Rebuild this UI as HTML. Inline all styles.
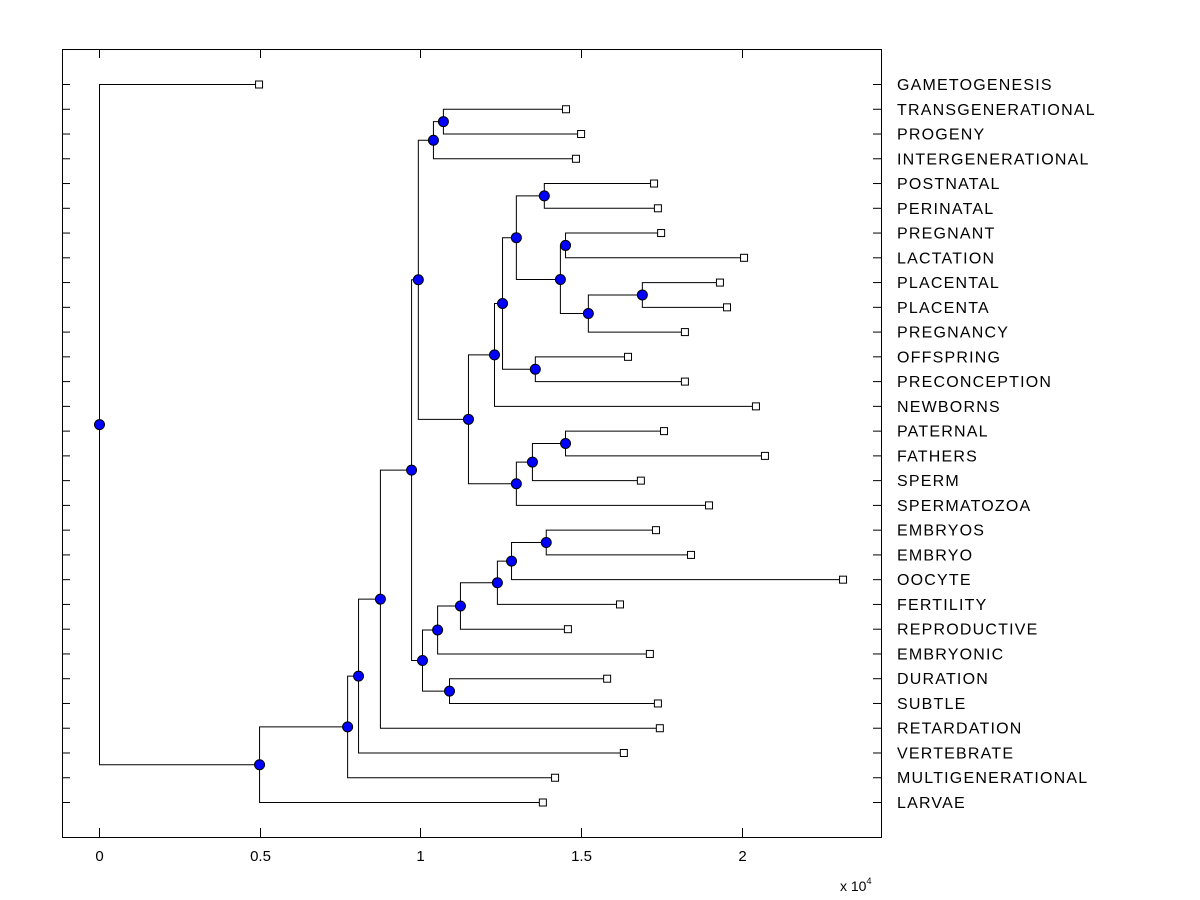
<!DOCTYPE html>
<html><head><meta charset="utf-8"><style>
html,body{margin:0;padding:0;background:#fff;}
svg{display:block;font-family:"Liberation Sans",Arial,sans-serif;}
</style></head><body>
<svg id="chart" width="1200" height="900">
<rect x="0" y="0" width="1200" height="900" fill="#fff"></rect>
<g id="marks"></g>
<rect x="62.5" y="49.5" width="819" height="788" fill="none" stroke="#000" stroke-width="1"></rect>
<g id="axes"></g>
<text x="840" y="891" font-size="14">x 10<tspan font-size="9" dy="-7">4</tspan></text>
</svg>
<script>
const leaves = ["GAMETOGENESIS","TRANSGENERATIONAL","PROGENY","INTERGENERATIONAL","POSTNATAL","PERINATAL","PREGNANT","LACTATION","PLACENTAL","PLACENTA","PREGNANCY","OFFSPRING","PRECONCEPTION","NEWBORNS","PATERNAL","FATHERS","SPERM","SPERMATOZOA","EMBRYOS","EMBRYO","OOCYTE","FERTILITY","REPRODUCTIVE","EMBRYONIC","DURATION","SUBTLE","RETARDATION","VERTEBRATE","MULTIGENERATIONAL","LARVAE"];
const leafValues = [0.498,1.453,1.500,1.484,1.727,1.739,1.749,2.007,1.932,1.954,1.823,1.646,1.823,2.044,1.758,2.072,1.686,1.898,1.733,1.842,2.315,1.621,1.459,1.714,1.581,1.739,1.745,1.633,1.419,1.381];
// internal nodes: [name, height, childA, childB]; children are leaf names or node names
const nodeNames = ["J","H","T","S","R","Q","P","N","O","M","K","V","U","L","I","F","AB","AA","Z","Y","W","X","G","E","D","C","B","A","ROOT"];
const nodeHeights = [1.070,1.039,1.689,1.521,1.450,1.434,1.384,1.297,1.356,1.254,1.229,1.450,1.347,1.297,1.148,0.992,1.390,1.282,1.238,1.123,1.052,1.089,1.005,0.971,0.874,0.806,0.772,0.498,0.0];
const nodeChildren = [["TRANSGENERATIONAL","PROGENY"],["J","INTERGENERATIONAL"],["PLACENTAL","PLACENTA"],["T","PREGNANCY"],["PREGNANT","LACTATION"],["R","S"],["POSTNATAL","PERINATAL"],["P","Q"],["OFFSPRING","PRECONCEPTION"],["N","O"],["M","NEWBORNS"],["PATERNAL","FATHERS"],["V","SPERM"],["U","SPERMATOZOA"],["K","L"],["H","I"],["EMBRYOS","EMBRYO"],["AB","OOCYTE"],["AA","FERTILITY"],["Z","REPRODUCTIVE"],["Y","EMBRYONIC"],["DURATION","SUBTLE"],["W","X"],["F","G"],["E","RETARDATION"],["D","VERTEBRATE"],["C","MULTIGENERATIONAL"],["B","LARVAE"],["GAMETOGENESIS","A"]];
const xTicks = [0,0.5,1,1.5,2];
const xTickLabels = ["0","0.5","1","1.5","2"];

const NS="http://www.w3.org/2000/svg";
const xs = v => 99 + v*321.4;
const ys = i => 84 + i*(718/29);
const marks=document.getElementById('marks'), axes=document.getElementById('axes');
function mk(tag,attrs,parent){const e=document.createElementNS(NS,tag);for(const k in attrs)e.setAttribute(k,attrs[k]);parent.appendChild(e);return e;}

const pos={};
leaves.forEach((n,i)=>{pos[n]={x:xs(leafValues[i]),y:ys(i),leaf:true};});
nodeNames.forEach((n,i)=>{
  const [a,b]=nodeChildren[i];
  pos[n]={x:xs(nodeHeights[i]),y:(pos[a].y+pos[b].y)/2,leaf:false};
});
nodeNames.forEach((n,i)=>{
  const p=pos[n];
  const [a,b]=nodeChildren[i];
  const d=`M${pos[a].x},${pos[a].y+0.5}H${p.x+0.5}V${pos[b].y+0.5}H${pos[b].x}`;
  const e=mk('path',{d:d,fill:'none',stroke:'#000','stroke-width':1},marks);
  
  
});
leaves.forEach((n,i)=>{
  const p=pos[n];
  const e=mk('rect',{x:p.x-3.5,y:p.y-3.5+0.5,width:7,height:7,fill:'#fff',stroke:'#000','stroke-width':1},marks);
  
  
  const t=mk('text',{x:897,y:p.y+6,'font-size':16,'letter-spacing':1.2,fill:'#000'},axes);
  t.textContent=n;
  
  
  const l1=mk('line',{x1:62,x2:70,y1:p.y+0.5,y2:p.y+0.5,stroke:'#000'},axes);
  
  
  const l2=mk('line',{x1:873,x2:881,y1:p.y+0.5,y2:p.y+0.5,stroke:'#000'},axes);
  
  
});
nodeNames.forEach(n=>{
  const p=pos[n];
  const e=mk('circle',{cx:p.x+0.5,cy:p.y+0.5,r:5,fill:'#0000ff',stroke:'#000','stroke-width':1},marks);
  
  
});
xTicks.forEach((v,i)=>{
  const x=Math.round(xs(v))+0.5;
  const b=mk('line',{x1:x,x2:x,y1:828,y2:837,stroke:'#000'},axes);
  
  
  const t2=mk('line',{x1:x,x2:x,y1:50,y2:58,stroke:'#000'},axes);
  
  
  const t=mk('text',{x:x,y:861,'font-size':15,'text-anchor':'middle'},axes);
  t.textContent=xTickLabels[i];
  
  
});
</script>
</body></html>
